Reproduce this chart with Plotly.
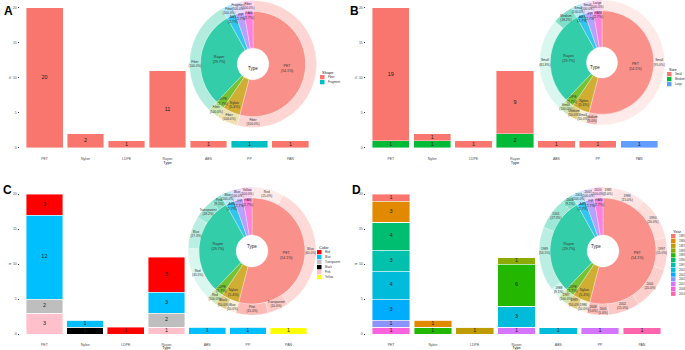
import plotly.graph_objects as go

W, H = 685, 350

# ---------------- data ----------------
types = ["PET", "Nylon", "LDPE", "Rayon", "ABS", "PP", "PAN"]
type_colors = ["#F8766D", "#C49A00", "#53B400", "#00C094", "#00B6EB", "#A58AFF", "#FB61D7"]

# Panel A: Shape
shape_levels = ["Fiber", "Fragment"]
shape_colors = ["#F8766D", "#00BFC4"]
shape_fiber = [20, 2, 1, 11, 1, 0, 1]
shape_fragment = [0, 0, 0, 0, 0, 1, 0]

# Panel B: Size
size_levels = ["Small", "Medium", "Large"]
size_colors = ["#F8766D", "#00BA38", "#619CFF"]
size_small = [19, 1, 1, 9, 1, 1, 0]
size_medium = [1, 1, 0, 2, 0, 0, 0]
size_large = [0, 0, 0, 0, 0, 0, 1]

# Panel C: Color
color_levels = ["Red", "Blue", "Transparent", "Black", "Pink", "Yellow"]
color_colors = ["#FF0000", "#00BFFF", "#BEBEBE", "#000000", "#FFC0CB", "#FFFF00"]
color_red = [3, 0, 1, 5, 0, 0, 0]
color_blue = [12, 1, 0, 3, 1, 1, 0]
color_transparent = [2, 0, 0, 2, 0, 0, 0]
color_black = [0, 1, 0, 0, 0, 0, 0]
color_pink = [3, 0, 0, 1, 0, 0, 0]
color_yellow = [0, 0, 0, 0, 0, 0, 1]

# Panel D: Year
year_levels = ["1985", "1986", "1987", "1988", "1989", "1990", "1997",
               "2001", "2002", "2005", "2007", "2008", "2010"]
year_colors = ["#F8766D", "#E18A00", "#BE9C00", "#8CAB00", "#24B700", "#00BE70", "#00C1AB",
               "#00BBDA", "#00ACFC", "#8B93FF", "#D575FE", "#F962DD", "#FF65AC"]
year_1985 = [1, 0, 0, 0, 0, 0, 0]
year_1986 = [3, 1, 0, 0, 0, 0, 0]
year_1987 = [0, 0, 1, 0, 0, 0, 0]
year_1988 = [0, 0, 0, 1, 0, 0, 0]
year_1989 = [0, 1, 0, 6, 0, 0, 0]
year_1990 = [4, 0, 0, 0, 0, 0, 0]
year_1997 = [3, 0, 0, 0, 0, 0, 0]
year_2001 = [4, 0, 0, 3, 1, 0, 0]
year_2002 = [3, 0, 0, 0, 0, 0, 0]
year_2005 = [1, 0, 0, 0, 0, 0, 0]
year_2007 = [0, 0, 0, 1, 0, 1, 0]
year_2008 = [1, 0, 0, 0, 0, 0, 0]
year_2010 = [0, 0, 0, 0, 0, 0, 1]

panels = [
    dict(letter="A", title="Shape", levels=shape_levels, colors=shape_colors,
         counts=[shape_fiber, shape_fragment],
         bar_x=(20, 315), bar_y=(0.5, 155), pie=(253, 64, 63.5),
         leg=(320, 72), letter_pos=(2, 2)),
    dict(letter="B", title="Size", levels=size_levels, colors=size_colors,
         counts=[size_small, size_medium, size_large],
         bar_x=(366, 664), bar_y=(0.5, 155), pie=(602, 62.5, 62.5),
         leg=(667, 69), letter_pos=(348, 2)),
    dict(letter="C", title="Color", levels=color_levels, colors=color_colors,
         counts=[color_red, color_blue, color_transparent, color_black, color_pink, color_yellow],
         bar_x=(20, 313), bar_y=(187, 341), pie=(252, 251, 64),
         leg=(317, 247), letter_pos=(1, 181)),
    dict(letter="D", title="Year", levels=year_levels, colors=year_colors,
         counts=[year_1985, year_1986, year_1987, year_1988, year_1989, year_1990, year_1997,
                 year_2001, year_2002, year_2005, year_2007, year_2008, year_2010],
         bar_x=(366, 667), bar_y=(187, 341), pie=(603, 251, 64),
         leg=(671, 231), letter_pos=(350, 181)),
]


def fx(p):
    return min(max(p / W, 0.0), 1.0)


def fy(p):
    return min(max(1 - p / H, 0.0), 1.0)


def rgba(hexc, a):
    h = hexc.lstrip("#")
    r, g, b = int(h[0:2], 16), int(h[2:4], 16), int(h[4:6], 16)
    return f"rgba({r},{g},{b},{a})"


fig = go.Figure()
annotations = []
shapes = []
layout_axes = {}
FONT = "Liberation Sans, Arial, sans-serif"

for i, p in enumerate(panels):
    n = i + 1
    xa = "x" if n == 1 else f"x{n}"
    ya = "y" if n == 1 else f"y{n}"
    # stacked bars: first level on top -> add in reverse order
    stack = list(reversed(list(zip(p["levels"], p["colors"], p["counts"]))))
    base = [0] * len(types)
    lab_x, lab_y, lab_t = [], [], []
    for lev, col, cnt in stack:
        fig.add_trace(go.Bar(
            x=types, y=cnt, xaxis=xa, yaxis=ya, name=lev,
            marker=dict(color=col, line=dict(color="rgba(255,255,255,0.7)", width=0.6)),
            showlegend=False, hoverinfo="skip"))
        for k, v in enumerate(cnt):
            if v > 0:
                lab_x.append(types[k])
                lab_y.append(base[k] + v / 2)
                lab_t.append(str(v))
                base[k] += v
    fig.add_trace(go.Scatter(
        x=lab_x, y=lab_y, text=lab_t, mode="text", xaxis=xa, yaxis=ya,
        textfont=dict(size=5.5, color="#222", family=FONT),
        showlegend=False, hoverinfo="skip"))
    x0, x1 = p["bar_x"]
    yt, yb = p["bar_y"]
    layout_axes[("xaxis" if n == 1 else f"xaxis{n}")] = dict(
        domain=[fx(x0), fx(x1)], anchor=ya, type="category", automargin=False,
        categoryorder="array", categoryarray=types, range=[-0.6, 6.6],
        showgrid=False, zeroline=False, showline=False, ticks="",
        tickfont=dict(size=3.5, color="#4d4d4d", family=FONT),
        title=dict(text="Type", font=dict(size=4, color="#222", family=FONT), standoff=0))
    layout_axes[("yaxis" if n == 1 else f"yaxis{n}")] = dict(
        domain=[fy(yb), fy(yt)], anchor=xa, range=[-1, 21], automargin=False,
        tickvals=[0, 5, 10, 15, 20], ticks="outside", ticklen=1.5, tickwidth=0.4,
        tickcolor="#333", showgrid=False, zeroline=False, showline=False,
        tickfont=dict(size=3.5, color="#4d4d4d", family=FONT),
        title=dict(text="n", font=dict(size=4, color="#222", family=FONT), standoff=1))

    # totals per type
    totals = [sum(c[k] for c in p["counts"]) for k in range(len(types))]
    grand = sum(totals)
    cx, cy, r = p["pie"]
    r_in = r * 0.83
    fig.add_trace(go.Pie(
        labels=types, values=totals, sort=False, direction="clockwise", rotation=0,
        hole=0.3, marker=dict(colors=[rgba(c, 0.8) for c in type_colors],
                              line=dict(color="white", width=0.3)),
        text=[f"{t}<br>({v / grand * 100:.1f}%)" for t, v in zip(types, totals)],
        textinfo="text", textposition="inside", insidetextorientation="horizontal",
        textfont=dict(size=3.6, color="#333", family=FONT),
        domain=dict(x=[fx(cx - r_in), fx(cx + r_in)], y=[fy(cy + r_in), fy(cy - r_in)]),
        showlegend=False, hoverinfo="skip"))
    # outer ring
    o_labels, o_vals, o_cols, o_text = [], [], [], []
    for k, t in enumerate(types):
        subs = [(lev, c[k]) for lev, c in zip(p["levels"], p["counts"]) if c[k] > 0]
        m = len(subs)
        for j, (lev, v) in enumerate(subs):
            a = 0.3 if m == 1 else 0.15 + 0.35 * j / (m - 1)
            o_labels.append(f"{t}-{lev}")
            o_vals.append(v)
            o_cols.append(rgba(type_colors[k], a))
            o_text.append(f"{lev}<br>({v / totals[k] * 100:.1f}%)")
    fig.add_trace(go.Pie(
        labels=o_labels, values=o_vals, sort=False, direction="clockwise", rotation=0,
        hole=0.83, marker=dict(colors=o_cols, line=dict(color="white", width=0.3)),
        text=o_text, textinfo="text", textposition="inside", insidetextorientation="horizontal",
        textfont=dict(size=3.2, color="#333", family=FONT),
        domain=dict(x=[fx(cx - r), fx(cx + r)], y=[fy(cy + r), fy(cy - r)]),
        showlegend=False, hoverinfo="skip"))
    annotations.append(dict(x=cx / W, y=1 - cy / H, xref="paper", yref="paper", text="Type",
                            showarrow=False, font=dict(size=4.5, color="#222", family=FONT)))

    # panel letter
    lx, ly = p["letter_pos"]
    annotations.append(dict(x=fx(lx), y=fy(ly), xref="paper", yref="paper", text=f"<b>{p['letter']}</b>",
                            showarrow=False, xanchor="left", yanchor="top",
                            font=dict(size=12, color="black", family=FONT)))
    # manual legend
    gx, gy = p["leg"]
    annotations.append(dict(x=fx(gx), y=fy(gy), xref="paper", yref="paper", text=p["title"],
                            showarrow=False, xanchor="left", yanchor="middle",
                            font=dict(size=4, color="#222", family=FONT)))
    step = 5 if len(p["levels"]) < 10 else 4.8
    for j, (lev, col) in enumerate(zip(p["levels"], p["colors"])):
        sy = gy + 3 + j * step
        shapes.append(dict(type="rect", xref="paper", yref="paper",
                           x0=fx(gx), x1=fx(gx + 4.5), y0=fy(sy), y1=fy(sy + 4.3),
                           fillcolor=col, line=dict(width=0)))
        annotations.append(dict(x=fx(gx + 5.5), y=fy(sy + 2.15), xref="paper", yref="paper", text=lev,
                                showarrow=False, xanchor="left", yanchor="middle",
                                font=dict(size=2.8, color="#333", family=FONT)))

fig.update_layout(
    width=W, height=H, margin=dict(l=0, r=0, t=0, b=0, autoexpand=False),
    paper_bgcolor="white", plot_bgcolor="white",
    barmode="stack", bargap=0.1, showlegend=False,
    uniformtext=dict(minsize=3.2, mode="show"),
    annotations=annotations, shapes=shapes,
    font=dict(family=FONT),
    **layout_axes)

fig.write_html("out.html", config={"displayModeBar": False},
               post_script="document.body.style.margin='0';document.body.style.overflow='hidden';")
